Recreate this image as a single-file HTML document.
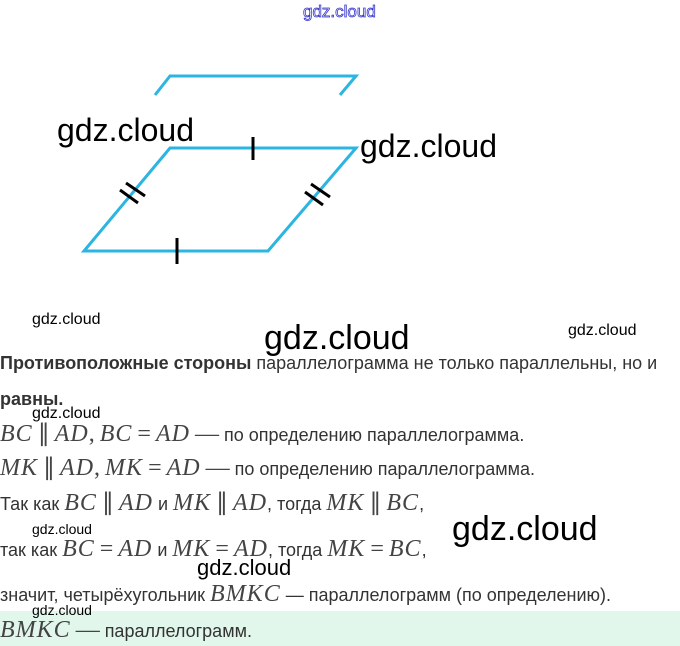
<!DOCTYPE html>
<html><head><meta charset="utf-8"><style>
body{margin:0;width:680px;height:646px;background:#fff;position:relative;overflow:hidden;font-family:"Liberation Sans",sans-serif;color:#333}
.l{position:absolute;left:0;white-space:nowrap;font-size:18px;line-height:22px}
.m{font-family:"Liberation Serif",serif;font-style:italic;font-size:24px;color:#444;letter-spacing:1px}
.r{font-family:"Liberation Serif",serif;font-size:24px;color:#444}
.w{position:absolute;font-family:"Liberation Sans",sans-serif;color:#000;white-space:nowrap}
</style></head><body>
<div style="position:absolute;left:0;top:611px;width:680px;height:35px;background:#e2f7eb"></div>
<svg width="680" height="300" style="position:absolute;left:0;top:0">
<g stroke="#2bb5e0" stroke-width="3" fill="none">
<polyline points="155,95 170,76 356,76 340,95"/>
<polygon points="170,148 356,148 268,251 84,251"/>
</g>
<g stroke="#000" stroke-width="3">
<line x1="253" y1="137" x2="253" y2="160"/>
<line x1="177" y1="238" x2="177" y2="264"/>
<line x1="120" y1="190" x2="138" y2="203"/>
<line x1="126" y1="183" x2="145" y2="196"/>
<line x1="305" y1="192" x2="323" y2="205"/>
<line x1="311" y1="184" x2="330" y2="197"/>
</g>
<text x="303" y="17" font-family="Liberation Sans" font-size="17" fill="#fff" stroke="#3333cc" stroke-width="0.8">gdz.cloud</text>
</svg>
<div class="w" style="left:57px;top:112px;font-size:32px">gdz.cloud</div>
<div class="w" style="left:360px;top:128px;font-size:32px">gdz.cloud</div>
<div class="w" style="left:32px;top:311px;font-size:16px">gdz.cloud</div>
<div class="w" style="left:264px;top:319px;font-size:34px">gdz.cloud</div>
<div class="w" style="left:568px;top:322px;font-size:16px">gdz.cloud</div>
<div class="l" style="top:352px"><b>Противоположные стороны</b> параллелограмма не только параллельны, но и</div>
<div class="l" style="top:388px"><b>равны.</b></div>
<div class="l" style="top:423px"><span class="m">BC</span> <span class="r">∥</span> <span class="m">AD</span><span class="r">,</span> <span class="m">BC</span> <span class="r">=</span> <span class="m">AD</span> <span class="r">—</span> по определению параллелограмма.</div>
<div class="l" style="top:457px"><span class="m">MK</span> <span class="r">∥</span> <span class="m">AD</span><span class="r">,</span> <span class="m">MK</span> <span class="r">=</span> <span class="m">AD</span> <span class="r">—</span> по определению параллелограмма.</div>
<div class="l" style="top:492px">Так как <span class="m">BC</span> <span class="r">∥</span> <span class="m">AD</span> и <span class="m">MK</span> <span class="r">∥</span> <span class="m">AD</span>, тогда <span class="m">MK</span> <span class="r">∥</span> <span class="m">BC</span>,</div>
<div class="l" style="top:538px">так как <span class="m">BC</span> <span class="r">=</span> <span class="m">AD</span> и <span class="m">MK</span> <span class="r">=</span> <span class="m">AD</span>, тогда <span class="m">MK</span> <span class="r">=</span> <span class="m">BC</span>,</div>
<div class="l" style="top:583px">значит, четырёхугольник <span class="m">BMKC</span> — параллелограмм (по определению).</div>
<div class="l" style="top:619px"><span class="m">BMKC</span> <span class="r">—</span> параллелограмм.</div>
<div class="w" style="left:32px;top:405px;font-size:16px">gdz.cloud</div>
<div class="w" style="left:32px;top:521px;font-size:14px">gdz.cloud</div>
<div class="w" style="left:452px;top:510px;font-size:34px">gdz.cloud</div>
<div class="w" style="left:197px;top:555px;font-size:22px">gdz.cloud</div>
<div class="w" style="left:32px;top:602px;font-size:14px">gdz.cloud</div>
</body></html>
